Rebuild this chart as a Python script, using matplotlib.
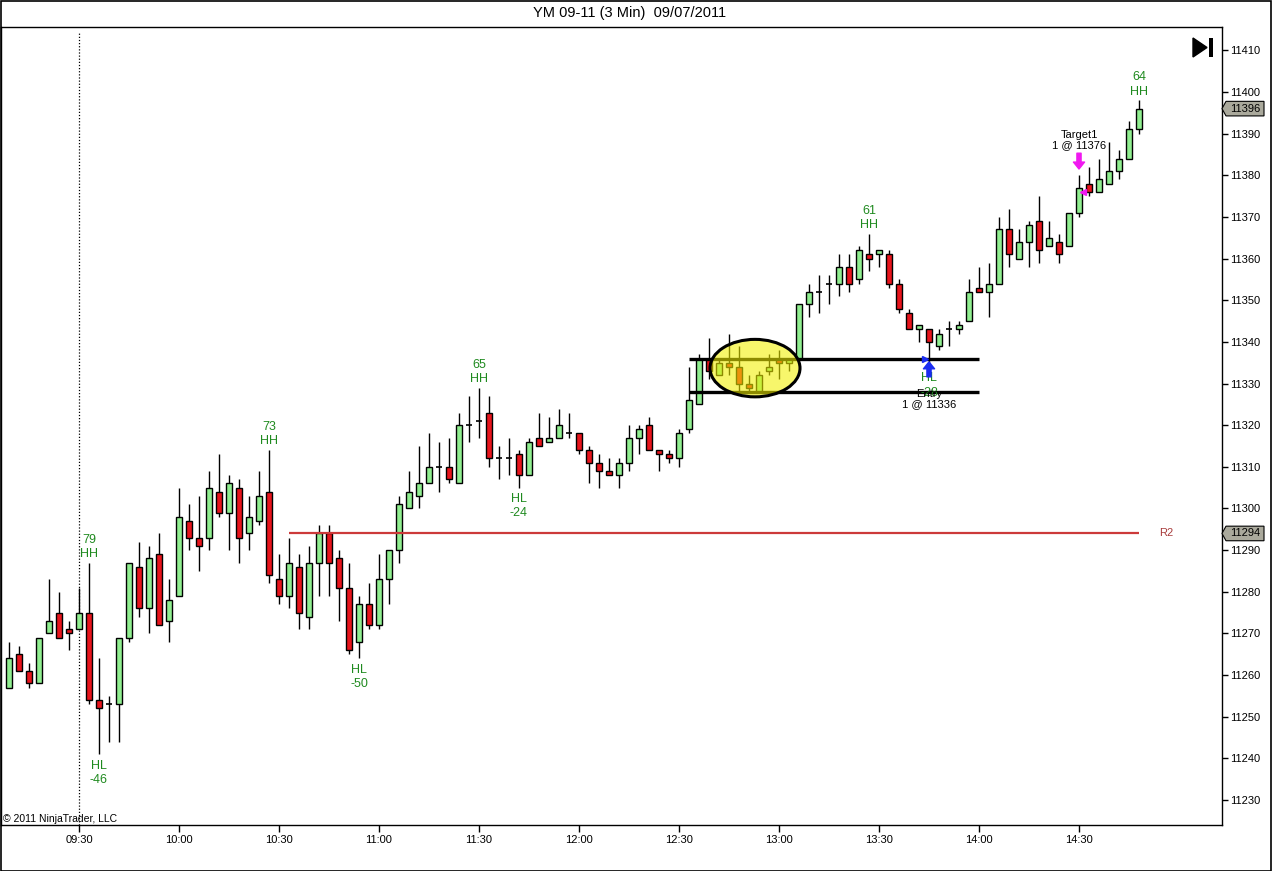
import matplotlib
matplotlib.use("Agg")
import matplotlib.pyplot as plt
from matplotlib.patches import Ellipse, Rectangle, Polygon
from matplotlib.transforms import blended_transform_factory
import numpy as np

plt.rcParams['font.family'] = ['Liberation Sans', 'DejaVu Sans']

# ---------------- data ----------------
start_minutes = 9 * 60 + 9   # first bar 09:09, 3-minute bars
bar_minutes = 3

opens = [11257, 11265, 11261, 11258, 11270, 11275, 11271, 11271, 11275, 11254,
         11253, 11253, 11269, 11286, 11276, 11289, 11273, 11279, 11297, 11293,
         11293, 11304, 11299, 11305, 11294, 11297, 11304, 11283, 11279, 11286,
         11274, 11287, 11294, 11288, 11281, 11268, 11277, 11272, 11283, 11290,
         11300, 11303, 11306, 11310, 11310, 11306, 11320, 11321, 11323, 11312,
         11312, 11313, 11308, 11317, 11316, 11317, 11318, 11318, 11314, 11311,
         11309, 11308, 11311, 11317, 11320, 11314, 11313, 11312, 11319, 11325,
         11336, 11332, 11335, 11334, 11330, 11328, 11333, 11336, 11335, 11336,
         11349, 11352, 11354, 11354, 11358, 11355, 11361, 11361, 11361, 11354,
         11347, 11343, 11343, 11339, 11343, 11343, 11345, 11353, 11352, 11354,
         11367, 11360, 11364, 11369, 11363, 11364, 11363, 11371, 11378, 11376,
         11378, 11381, 11384, 11391]
highs = [11268, 11267, 11263, 11269, 11283, 11280, 11273, 11281, 11287, 11264,
         11255, 11269, 11287, 11292, 11291, 11294, 11283, 11305, 11301, 11303,
         11309, 11313, 11308, 11307, 11303, 11309, 11314, 11289, 11293, 11289,
         11291, 11296, 11296, 11290, 11287, 11279, 11282, 11289, 11290, 11303,
         11309, 11315, 11318, 11316, 11317, 11323, 11327, 11329, 11327, 11315,
         11317, 11314, 11317, 11323, 11322, 11324, 11323, 11318, 11315, 11313,
         11312, 11312, 11320, 11320, 11322, 11314, 11314, 11319, 11334, 11337,
         11341, 11336, 11342, 11339, 11332, 11333, 11337, 11338, 11336, 11349,
         11354, 11356, 11356, 11361, 11361, 11363, 11366, 11362, 11362, 11355,
         11348, 11344, 11343, 11343, 11345, 11345, 11355, 11358, 11359, 11370,
         11372, 11367, 11369, 11375, 11369, 11366, 11371, 11380, 11382, 11384,
         11388, 11386, 11393, 11398]
lows = [11257, 11261, 11257, 11258, 11270, 11269, 11266, 11271, 11253, 11241,
        11244, 11244, 11268, 11274, 11270, 11272, 11268, 11279, 11290, 11285,
        11290, 11298, 11290, 11287, 11290, 11296, 11282, 11277, 11276, 11271,
        11271, 11279, 11279, 11273, 11265, 11264, 11271, 11271, 11277, 11287,
        11300, 11300, 11306, 11304, 11306, 11306, 11316, 11317, 11310, 11307,
        11308, 11305, 11308, 11315, 11316, 11317, 11317, 11313, 11306, 11305,
        11308, 11305, 11309, 11313, 11314, 11309, 11311, 11310, 11318, 11325,
        11331, 11332, 11332, 11328, 11328, 11328, 11332, 11331, 11333, 11336,
        11346, 11347, 11349, 11351, 11352, 11354, 11357, 11358, 11353, 11347,
        11343, 11340, 11334, 11338, 11339, 11342, 11345, 11352, 11346, 11354,
        11358, 11360, 11358, 11359, 11363, 11359, 11363, 11370, 11375, 11376,
        11378, 11379, 11384, 11390]
closes = [11264, 11261, 11258, 11269, 11273, 11269, 11270, 11275, 11254, 11252,
          11253, 11269, 11287, 11276, 11288, 11272, 11278, 11298, 11293, 11291,
          11305, 11299, 11306, 11293, 11298, 11303, 11284, 11279, 11287, 11275,
          11287, 11294, 11287, 11281, 11266, 11277, 11272, 11283, 11290, 11301,
          11304, 11306, 11310, 11310, 11307, 11320, 11320, 11321, 11312, 11312,
          11312, 11308, 11316, 11315, 11317, 11320, 11318, 11314, 11311, 11309,
          11308, 11311, 11317, 11319, 11314, 11313, 11312, 11318, 11326, 11336,
          11333, 11335, 11334, 11330, 11329, 11332, 11334, 11335, 11336, 11349,
          11352, 11352, 11354, 11358, 11354, 11362, 11360, 11362, 11354, 11348,
          11343, 11344, 11340, 11342, 11343, 11344, 11352, 11352, 11354, 11367,
          11361, 11364, 11368, 11362, 11365, 11361, 11371, 11377, 11376, 11379,
          11381, 11384, 11391, 11396]

# swing labels
swing_bars = [8, 9, 26, 35, 47, 51, 86, 92, 113]
swing_types = ['HH', 'HL', 'HH', 'HL', 'HH', 'HL', 'HH', 'HL', 'HH']
swing_nums = ['79', '-46', '73', '-50', '65', '-24', '61', '-28', '64']

r2_level = 11294
r2_start_bar, r2_end_bar = 28, 113
range_top, range_bottom = 11336, 11328
range_start_bar, range_end_bar = 68, 97
entry_bar, entry_price = 92, 11336
target_bar, target_price = 107, 11376
last_price = closes[-1]

y_min, y_max = 11224.0, 11415.6
price_ticks = list(range(11230, 11411, 10))

# ---------------- figure ----------------
W, H = 1272, 871
fig = plt.figure(figsize=(W / 100, H / 100), dpi=100)
fig.patch.set_facecolor('white')
ax = fig.add_axes([1 / W, (H - 825) / H, 1221 / W, 798 / H])
ax.set_facecolor('white')

n = len(opens)
idx = np.arange(n)
o = np.array(opens); c = np.array(closes); hi = np.array(highs); lo = np.array(lows)

up_col = '#90ee90'
dn_col = '#e8141c'
bw = 0.66

ax.vlines(idx, lo, hi, color='black', lw=1.0, zorder=2)
for i in range(n):
    if o[i] == c[i]:
        ax.hlines(o[i], i - bw / 2, i + bw / 2, color='black', lw=1.2, zorder=3)
    else:
        col = up_col if c[i] > o[i] else dn_col
        ax.bar(i, abs(c[i] - o[i]), bottom=min(o[i], c[i]), width=bw,
               color=col, edgecolor='black', linewidth=1.0, zorder=3)

# session start dotted line
times = [start_minutes + bar_minutes * i for i in range(n)]
tick_idx = [i for i, t in enumerate(times) if t % 30 == 0]
tick_lab = ['%02d:%02d' % (times[i] // 60, times[i] % 60) for i in tick_idx]
session_bar = [i for i, t in enumerate(times) if t == 9 * 60 + 30][0]
ax.axvline(session_bar, ymin=0, ymax=(825 - 33) / 798, color='black', lw=0.9,
           linestyle=(0, (1, 1.5)), zorder=1)

# R2 line
ax.hlines(r2_level, r2_start_bar, r2_end_bar, color='#cc3a3a', lw=1.6, zorder=4)
ax.text(r2_end_bar + 2.7, r2_level, 'R2', color='#a83c3c', fontsize=8,
        va='center', ha='center')

# range lines
ax.hlines([range_top, range_bottom], range_start_bar, range_end_bar,
          color='black', lw=2.4, zorder=5)

# ellipse highlight
ell = Ellipse((74.6, 11333.7), 9.0, 13.8, facecolor='#f2f000', alpha=0.58,
              edgecolor='none', zorder=6)
ax.add_patch(ell)
ell2 = Ellipse((74.6, 11333.7), 9.0, 13.8, facecolor='none',
               edgecolor='black', lw=2.2, zorder=7)
ax.add_patch(ell2)

# swing labels
green = '#1f8a1f'
for b, t, num in zip(swing_bars, swing_types, swing_nums):
    if t == 'HH':
        ax.annotate(num + '\n' + t, xy=(b, highs[b]), xytext=(0, 2),
                    textcoords='offset points', ha='center', va='bottom',
                    color=green, fontsize=9, linespacing=1.25, zorder=8)
    else:
        ax.annotate(t + '\n' + num, xy=(b, lows[b]), xytext=(0, -4),
                    textcoords='offset points', ha='center', va='top',
                    color=green, fontsize=9, linespacing=1.25, zorder=8)

# entry marker
ax.plot([entry_bar - 0.4], [entry_price], marker='>', color='#1a2cf0',
        markersize=5, zorder=9, linestyle='none')
arr_kw = dict(facecolor='#1a2cf0', edgecolor='#1a2cf0', width=3, headwidth=8,
              headlength=5, shrink=0)
ax.annotate('', xy=(entry_bar, entry_price - 0.8), xytext=(entry_bar, entry_price - 4.4),
            arrowprops=arr_kw, zorder=10)
ax.annotate('Entry\n1 @ %d' % entry_price, xy=(entry_bar, lows[entry_bar]),
            xytext=(0, -16), textcoords='offset points', ha='center', va='top',
            fontsize=8, color='black', linespacing=1.0, zorder=11)

# target marker
tg_kw = dict(facecolor='#f018f0', edgecolor='#f018f0', width=3, headwidth=8,
             headlength=5, shrink=0)
ax.annotate('', xy=(target_bar, highs[target_bar] + 1.5),
            xytext=(target_bar, highs[target_bar] + 5.3), arrowprops=tg_kw, zorder=10)
ax.plot([target_bar + 0.35], [target_price], marker='<', color='#f018f0',
        markersize=4, zorder=9, linestyle='none')
ax.annotate('Target1\n1 @ %d' % target_price, xy=(target_bar, highs[target_bar]),
            xytext=(0, 18), textcoords='offset points', ha='center', va='bottom',
            fontsize=8, color='black', linespacing=1.0, zorder=11)

# axes setup
ax.set_xlim(-0.8, 121.3)
ax.set_ylim(y_min, y_max)
ax.set_xticks(tick_idx)
ax.set_xticklabels(tick_lab)
ax.yaxis.tick_right()
ax.set_yticks(price_ticks)
ax.set_yticklabels([str(p) for p in price_ticks])
ax.tick_params(axis='x', direction='out', length=5, width=1, pad=2, labelsize=8)
ax.tick_params(axis='y', direction='out', length=4, width=1, pad=2, labelsize=8)
for s in ax.spines.values():
    s.set_color('black'); s.set_linewidth(1.0)

# price boxes on the right axis
tr = blended_transform_factory(ax.transAxes, ax.transData)
def price_box(p):
    x0 = 1.0
    x1 = 1.0 + 4 / 1221
    x2 = 1.0 + 42 / 1221
    h = 1.75
    poly = Polygon([[x0, p], [x1, p + h], [x2, p + h], [x2, p - h], [x1, p - h]],
                   closed=True, transform=tr, facecolor='#aaa99c', edgecolor='black',
                   lw=0.8, clip_on=False, zorder=12)
    ax.add_patch(poly)
    ax.text(1.0 + 23 / 1221, p, str(p), transform=tr, ha='center', va='center',
            fontsize=8, color='black', clip_on=False, zorder=13)
price_box(last_price)
price_box(r2_level)

# title, copyright
fig.text(630 / W, 1 - 13 / H, 'YM 09-11 (3 Min)  09/07/2011', ha='center', va='center',
         fontsize=10.5, color='black')
ax.text(2 / 1221, (825 - 819) / 798, '\u00a9 2011 NinjaTrader, LLC', transform=ax.transAxes,
        ha='left', va='center', fontsize=7.5, color='black')

# "go to end" icon
def af(px, py):
    return ((px - 1) / 1221, (825 - py) / 798)
tri = Polygon([af(1193, 38), af(1193, 57), af(1207, 47.5)], closed=True,
              transform=ax.transAxes, facecolor='black', edgecolor='black', zorder=12)
ax.add_patch(tri)
bx, by = af(1209, 57)
ax.add_patch(Rectangle((bx, by), 3.5 / 1221, 19 / 798, transform=ax.transAxes,
                       facecolor='black', edgecolor='none', zorder=12))

# figure border
fig.patches.append(Rectangle((0.5 / W, 0.5 / H), 1 - 1.5 / W, 1 - 1.5 / H,
                             transform=fig.transFigure, fill=False, edgecolor='black',
                             lw=1.2))

fig.savefig('out.png', dpi=100)
